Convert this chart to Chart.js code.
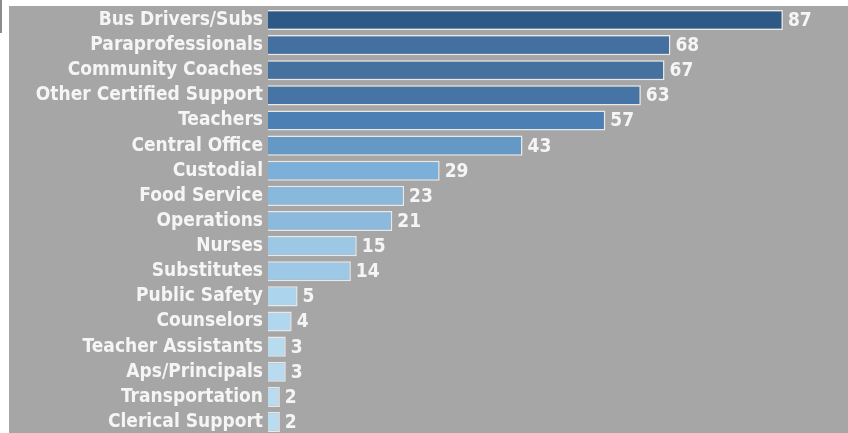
<!DOCTYPE html>
<html>
<head>
<meta charset="utf-8">
<script src="https://cdn.jsdelivr.net/npm/chart.js@4.4.1/dist/chart.umd.min.js"></script>
<style>
  html, body { margin: 0; padding: 0; background: #ffffff; }
  body { width: 848px; height: 433px; position: relative; overflow: hidden; }
  #wrap { position: absolute; left: 9px; top: 6px; width: 839px; height: 427px; background: #a6a6a6; overflow: hidden; }
  #box { position: absolute; left: 0; top: -15px; width: 839px; height: 460px; }
  #edge { position: absolute; left: 0; top: 0; width: 2px; height: 33px; background: #8c8c8c; }
</style>
</head>
<body>
<div id="edge"></div>
<div id="wrap"><div id="box"><canvas id="staffChart"></canvas></div></div>
<script>
  var categories = ['Bus Drivers/Subs', 'Paraprofessionals', 'Community Coaches', 'Other Certified Support',
    'Teachers', 'Central Office', 'Custodial', 'Food Service', 'Operations', 'Nurses', 'Substitutes',
    'Public Safety', 'Counselors', 'Teacher Assistants', 'Aps/Principals', 'Transportation', 'Clerical Support'];
  var counts = [87, 68, 67, 63, 57, 43, 29, 23, 21, 15, 14, 5, 4, 3, 3, 2, 2];

  var barColors = ['#2d5986', '#44709f', '#45719f', '#4674a5', '#4c80b5', '#6499c6', '#7db0d8', '#88b8dc',
    '#8bbadd', '#9dc8e5', '#9ec9e6', '#acd4ed', '#b1d7ee', '#b8dbf0', '#b8dbf0', '#b9dcf1', '#b9dcf1'];

  var labelFont = '"DejaVu Sans Condensed", "DejaVu Sans"';

  // value labels at the end of each bar
  var valueLabels = {
    id: 'valueLabels',
    afterDatasetsDraw: function (chart) {
      var ctx = chart.ctx;
      var meta = chart.getDatasetMeta(0);
      ctx.save();
      ctx.font = 'bold 19px ' + labelFont;
      ctx.fillStyle = '#f5f5f5';
      ctx.textAlign = 'left';
      ctx.textBaseline = 'middle';
      meta.data.forEach(function (bar, i) {
        ctx.fillText(counts[i], bar.x + 5, bar.y + 1);
      });
      ctx.restore();
    }
  };

  new Chart(document.getElementById('staffChart'), {
    type: 'bar',
    data: {
      labels: categories,
      datasets: [
        {
          data: counts,
          backgroundColor: barColors,
          borderColor: '#e8e8e8',
          borderWidth: 1.5,
          barPercentage: 0.8,
          categoryPercentage: 1.0
        }
      ]
    },
    options: {
      indexAxis: 'y',
      responsive: true,
      maintainAspectRatio: false,
      animation: false,
      layout: { padding: 0 },
      plugins: {
        legend: { display: false },
        tooltip: { enabled: false }
      },
      scales: {
        x: {
          display: false,
          min: 0,
          max: 98
        },
        y: {
          afterFit: function (scale) { scale.width = 259; },
          grid: { display: false, drawTicks: false },
          border: { display: false },
          ticks: {
            color: '#f5f5f5',
            padding: 5,
            font: { family: labelFont, size: 19, weight: 'bold' }
          }
        }
      }
    },
    plugins: [valueLabels]
  });
</script>
</body>
</html>
